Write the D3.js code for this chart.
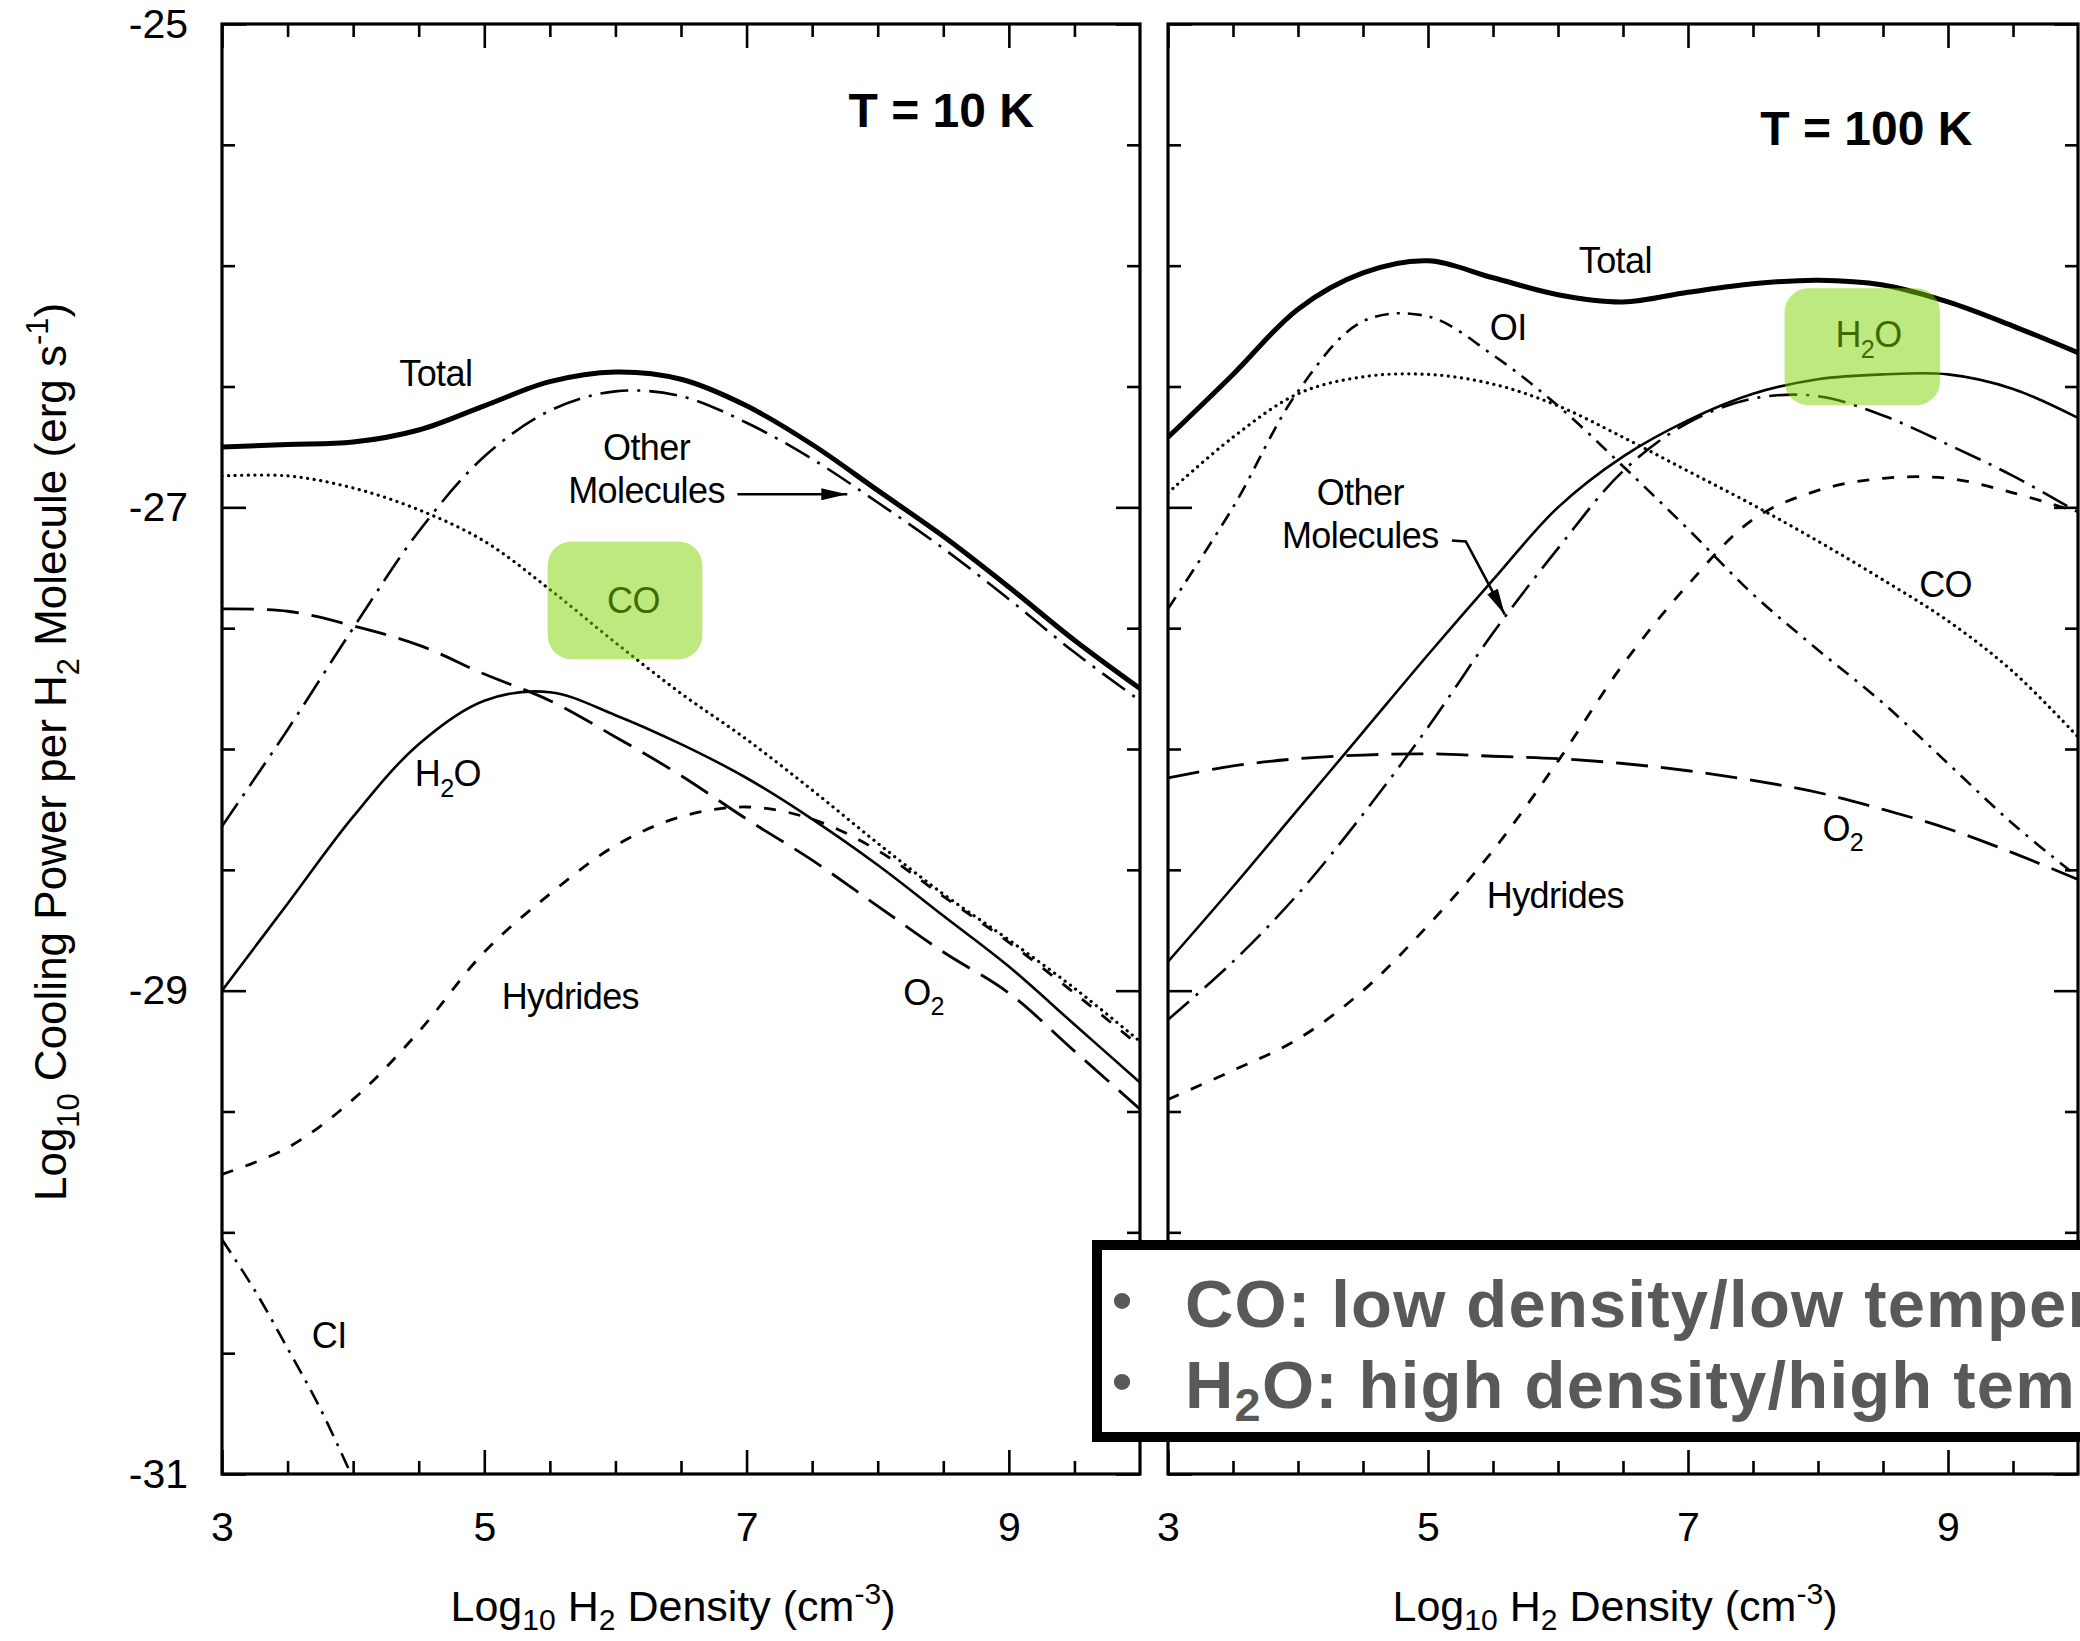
<!DOCTYPE html>
<html>
<head>
<meta charset="utf-8">
<script src="https://cdn.jsdelivr.net/npm/d3@7"></script>
<style>
  body { margin: 0; background: #fff; }
  svg { display: block; }
</style>
</head>
<body>
<svg id="chart" width="2080" height="1641"></svg>
<script>
// log10 H2 density grid shared by the curves
var density = [3, 3.5, 4, 4.5, 5, 5.5, 6, 6.5, 7, 7.5, 8, 8.5, 9, 9.5, 10];

// T = 10 K panel (log10 cooling power per H2 molecule)
var total10 = [-26.75, -26.74, -26.73, -26.68, -26.58, -26.48, -26.44, -26.47, -26.58, -26.74, -26.93, -27.12, -27.33, -27.55, -27.75];
var other10 = [-28.32, -27.92, -27.5, -27.1, -26.79, -26.6, -26.52, -26.54, -26.65, -26.8, -26.98, -27.17, -27.38, -27.6, -27.8];
var co10    = [-26.87, -26.87, -26.92, -27.01, -27.14, -27.34, -27.56, -27.77, -27.96, -28.17, -28.39, -28.6, -28.79, -28.99, -29.21];
var o2_10   = [-27.42, -27.43, -27.49, -27.57, -27.69, -27.8, -27.95, -28.11, -28.29, -28.46, -28.65, -28.84, -29.01, -29.25, -29.49];
var h2o10   = [-29.0, -28.64, -28.28, -27.98, -27.8, -27.765, -27.86, -27.98, -28.12, -28.29, -28.48, -28.69, -28.9, -29.14, -29.38];
var hyd10   = [-29.76, -29.65, -29.45, -29.17, -28.84, -28.6, -28.4, -28.28, -28.24, -28.29, -28.42, -28.61, -28.8, -29.01, -29.23];
var ciDensity = [3, 3.25, 3.5, 3.75, 4];
var ci10      = [-30.03, -30.24, -30.48, -30.73, -31.02];

// T = 100 K panel
var total100 = [-26.71, -26.45, -26.18, -26.03, -25.98, -26.05, -26.12, -26.15, -26.11, -26.075, -26.06, -26.08, -26.15, -26.25, -26.36];
var oi100    = [-27.42, -27.0, -26.52, -26.23, -26.21, -26.37, -26.58, -26.83, -27.09, -27.36, -27.59, -27.81, -28.06, -28.31, -28.53];
var co100    = [-26.94, -26.71, -26.53, -26.46, -26.45, -26.49, -26.58, -26.71, -26.85, -26.99, -27.14, -27.3, -27.47, -27.68, -27.95];
var h2o100   = [-28.88, -28.57, -28.25, -27.93, -27.61, -27.3, -27.0, -26.79, -26.64, -26.53, -26.47, -26.45, -26.45, -26.51, -26.63];
var other100 = [-29.12, -28.88, -28.6, -28.27, -27.91, -27.52, -27.17, -26.85, -26.65, -26.55, -26.54, -26.62, -26.74, -26.87, -27.02];
var hyd100   = [-29.45, -29.33, -29.2, -29.0, -28.73, -28.42, -28.05, -27.65, -27.32, -27.05, -26.93, -26.88, -26.88, -26.94, -27.02];
var o2_100   = [-28.12, -28.07, -28.04, -28.025, -28.02, -28.03, -28.04, -28.06, -28.09, -28.13, -28.18, -28.25, -28.33, -28.43, -28.54];

// ticks
var xTicksMajor = [3, 5, 7, 9];
var xTicksMinor = [3.5, 4, 4.5, 5.5, 6, 6.5, 7.5, 8, 8.5, 9.5];
var yTicksMajor = [-25, -27, -29, -31];
var yTicksMinor = [-25.5, -26, -26.5, -27.5, -28, -28.5, -29.5, -30, -30.5];

// curve labels, in data units [density, log power]
var labels10 = [
  {parts: [['Total']], at: [4.63, -26.499], anchor: 'middle'},
  {parts: [['Other']], at: [6.237, -26.805], anchor: 'middle'},
  {parts: [['Molecules']], at: [6.237, -26.983], anchor: 'middle'},
  {parts: [['CO']], at: [6.138, -27.439], anchor: 'middle'},
  {parts: [['H'], ['2', 'sub'], ['O']], at: [4.47, -28.155], anchor: 'start'},
  {parts: [['Hydrides']], at: [5.133, -29.074], anchor: 'start'},
  {parts: [['O'], ['2', 'sub']], at: [8.194, -29.058], anchor: 'start'},
  {parts: [['CI']], at: [3.685, -30.478], anchor: 'start'}
];
var labels100 = [
  {parts: [['Total']], at: [6.441, -26.031], anchor: 'middle'},
  {parts: [['OI']], at: [5.475, -26.309], anchor: 'start'},
  {parts: [['H'], ['2', 'sub'], ['O']], at: [8.134, -26.337], anchor: 'start'},
  {parts: [['Other']], at: [4.479, -26.992], anchor: 'middle'},
  {parts: [['Molecules']], at: [4.479, -27.17], anchor: 'middle'},
  {parts: [['CO']], at: [8.778, -27.373], anchor: 'start'},
  {parts: [['O'], ['2', 'sub']], at: [8.034, -28.379], anchor: 'start'},
  {parts: [['Hydrides']], at: [5.452, -28.656], anchor: 'start'}
];
var arrow10 = [[6.93, -26.946], [7.768, -26.946]];
var arrow100 = [[5.184, -27.137], [5.291, -27.141], [5.59, -27.443]];
var box10 = [[5.483, -27.141], [6.663, -27.629]];
var box100 = [[7.743, -26.093], [8.939, -26.578]];

var FONT = '"Liberation Sans", Arial, Helvetica, sans-serif';

var styles = {
  total: {w: 5, dash: null},
  other: {w: 2.6, dash: '28 9 3 9'},
  co:    {w: 3.2, dash: '0.1 6.5', cap: 'round'},
  o2:    {w: 2.8, dash: '32 13'},
  h2o:   {w: 2.6, dash: null},
  hyd:   {w: 2.8, dash: '12 13'},
  ci:    {w: 2.6, dash: '16 8 3 8'},
  oi:    {w: 2.6, dash: '14 8 3 8'}
};

var panels = [
  {range: [222, 1140], title: 'T = 10 K', titleAt: [8.484, -25.427], yLabels: true,
   series: [['hyd', density, hyd10], ['o2', density, o2_10], ['co', density, co10], ['h2o', density, h2o10],
            ['ci', ciDensity, ci10], ['other', density, other10], ['total', density, total10]],
   labels: labels10, arrow: arrow10, box: box10},
  {range: [1168, 2078], title: 'T = 100 K', titleAt: [8.372, -25.501], yLabels: false,
   series: [['hyd', density, hyd100], ['o2', density, o2_100], ['co', density, co100], ['oi', density, oi100],
            ['other', density, other100], ['h2o', density, h2o100], ['total', density, total100]],
   labels: labels100, arrow: arrow100, box: box100}
];

var svg = d3.select('#chart');
svg.append('rect').attr('width', 2080).attr('height', 1641).attr('fill', '#fff');

var y = d3.scaleLinear().domain([-31, -25]).range([1474, 24]);

var defs = svg.append('defs');
defs.append('marker')
    .attr('id', 'head')
    .attr('markerUnits', 'userSpaceOnUse')
    .attr('viewBox', '0 0 26 12')
    .attr('refX', 26).attr('refY', 6)
    .attr('markerWidth', 26).attr('markerHeight', 12)
    .attr('orient', 'auto')
  .append('path').attr('d', 'M0,0 L26,6 L0,12 Z').attr('fill', '#000');

function richText(sel, parts, size, subShift) {
  var shift = 0;
  var down = subShift === undefined ? 0.3 : subShift;
  parts.forEach(function(p) {
    var kind = p[1] || 'n';
    var target = kind === 'sub' ? size * down : (kind === 'sup' ? -size * 0.4 : 0);
    sel.append('tspan')
        .attr('dy', target - shift)
        .attr('font-size', kind === 'n' ? size : size * 0.7)
        .text(p[0]);
    shift = target;
  });
}

panels.forEach(function(p, i) {
  var x = d3.scaleLinear().domain([3, 10]).range(p.range);
  var g = svg.append('g');

  defs.append('clipPath').attr('id', 'clip' + i)
    .append('rect')
      .attr('x', p.range[0]).attr('y', y(-25))
      .attr('width', p.range[1] - p.range[0]).attr('height', y(-31) - y(-25));

  var line = d3.line()
      .x(function(d) { return x(d[0]); })
      .y(function(d) { return y(d[1]); })
      .curve(d3.curveCatmullRom.alpha(0.5));

  var lines = g.append('g').attr('clip-path', 'url(#clip' + i + ')');
  p.series.forEach(function(s) {
    var st = styles[s[0]];
    lines.append('path')
        .datum(d3.zip(s[1], s[2]))
        .attr('d', line)
        .attr('fill', 'none')
        .attr('stroke', '#000')
        .attr('stroke-width', st.w)
        .attr('stroke-dasharray', st.dash)
        .attr('stroke-linecap', st.cap || 'butt')
        .attr('stroke-linejoin', 'round');
  });

  // curve labels
  p.labels.forEach(function(l) {
    var t = g.append('text')
        .attr('x', x(l.at[0])).attr('y', y(l.at[1]))
        .attr('text-anchor', l.anchor)
        .attr('font-family', FONT)
        .attr('letter-spacing', -0.6)
        .attr('fill', '#000');
    richText(t, l.parts, 36);
  });

  g.append('path')
      .datum(p.arrow)
      .attr('d', d3.line().x(function(d) { return x(d[0]); }).y(function(d) { return y(d[1]); }))
      .attr('fill', 'none')
      .attr('stroke', '#000')
      .attr('stroke-width', 2.6)
      .attr('marker-end', 'url(#head)');

  g.append('text')
      .attr('x', x(p.titleAt[0])).attr('y', y(p.titleAt[1]))
      .attr('text-anchor', 'middle')
      .attr('font-family', FONT)
      .attr('font-weight', 'bold')
      .attr('font-size', 48)
      .text(p.title);

  // green highlight over the figure
  g.append('rect')
      .attr('x', x(p.box[0][0])).attr('y', y(p.box[0][1]))
      .attr('width', x(p.box[1][0]) - x(p.box[0][0]))
      .attr('height', y(p.box[1][1]) - y(p.box[0][1]))
      .attr('rx', 24)
      .attr('fill', 'rgb(124,212,0)')
      .attr('fill-opacity', 0.5);

  // axes, ticks pointing inward
  var h = y(-31), top = y(-25);
  function styleAxis(a) {
    a.select('.domain').remove();
    a.selectAll('.tick line').attr('stroke-width', 2.6);
    a.attr('font-family', FONT).attr('font-size', 41);
  }
  g.append('g').attr('transform', 'translate(0,' + h + ')')
      .call(d3.axisBottom(x).tickValues(xTicksMajor).tickSizeInner(-24).tickSizeOuter(0).tickPadding(38)
            .tickFormat(function(d) { return String(d); }))
      .call(styleAxis);
  g.append('g').attr('transform', 'translate(0,' + h + ')')
      .call(d3.axisBottom(x).tickValues(xTicksMinor).tickSizeInner(-13).tickSizeOuter(0).tickFormat(''))
      .call(styleAxis);
  g.append('g').attr('transform', 'translate(0,' + top + ')')
      .call(d3.axisTop(x).tickValues(xTicksMajor).tickSizeInner(-24).tickSizeOuter(0).tickFormat(''))
      .call(styleAxis);
  g.append('g').attr('transform', 'translate(0,' + top + ')')
      .call(d3.axisTop(x).tickValues(xTicksMinor).tickSizeInner(-13).tickSizeOuter(0).tickFormat(''))
      .call(styleAxis);
  g.append('g').attr('transform', 'translate(' + p.range[0] + ',0)')
      .call(d3.axisLeft(y).tickValues(yTicksMajor).tickSizeInner(-24).tickSizeOuter(0).tickPadding(34)
            .tickFormat(function(d) { return p.yLabels ? String(d) : ''; }))
      .call(styleAxis);
  g.append('g').attr('transform', 'translate(' + p.range[0] + ',0)')
      .call(d3.axisLeft(y).tickValues(yTicksMinor).tickSizeInner(-13).tickSizeOuter(0).tickFormat(''))
      .call(styleAxis);
  g.append('g').attr('transform', 'translate(' + p.range[1] + ',0)')
      .call(d3.axisRight(y).tickValues(yTicksMajor).tickSizeInner(-24).tickSizeOuter(0).tickFormat(''))
      .call(styleAxis);
  g.append('g').attr('transform', 'translate(' + p.range[1] + ',0)')
      .call(d3.axisRight(y).tickValues(yTicksMinor).tickSizeInner(-13).tickSizeOuter(0).tickFormat(''))
      .call(styleAxis);

  g.append('rect')
      .attr('x', p.range[0]).attr('y', top)
      .attr('width', p.range[1] - p.range[0]).attr('height', h - top)
      .attr('fill', 'none').attr('stroke', '#000').attr('stroke-width', 3.2);

  var xt = g.append('text')
      .attr('x', (p.range[0] + p.range[1]) / 2 - 8).attr('y', 1621)
      .attr('text-anchor', 'middle')
      .attr('font-family', FONT);
  richText(xt, [['Log'], ['10', 'sub'], [' H'], ['2', 'sub'], [' Density (cm'], ['-3', 'sup'], [')']], 43, 0.22);
});

// y axis title
var yt = svg.append('text')
    .attr('transform', 'translate(66,752) rotate(-90)')
    .attr('text-anchor', 'middle')
    .attr('font-family', FONT);
richText(yt, [['Log'], ['10', 'sub'], [' Cooling Power per H'], ['2', 'sub'], [' Molecule (erg s'], ['-1', 'sup'], [')']], 44);

// summary box laid over the figure
var note = svg.append('g');
note.append('rect')
    .attr('x', 1097).attr('y', 1245).attr('width', 1100).attr('height', 192)
    .attr('fill', '#fff').attr('stroke', '#000').attr('stroke-width', 10);
var noteLines = [
  [['CO: low density/low temperature']],
  [['H'], ['2', 'sub'], ['O: high density/high temperature']]
];
noteLines.forEach(function(parts, k) {
  var by = 1327 + k * 81;
  note.append('text')
      .attr('x', 1122).attr('y', by - 6)
      .attr('text-anchor', 'middle')
      .attr('font-family', FONT).attr('font-size', 60)
      .attr('fill', '#595959')
      .text('\u2022');
  var t = note.append('text')
      .attr('x', 1185).attr('y', by)
      .attr('font-family', FONT).attr('font-weight', 'bold')
      .attr('letter-spacing', 1.2)
      .attr('fill', '#595959');
  richText(t, parts, 67, 0.2);
});
</script>
</body>
</html>
